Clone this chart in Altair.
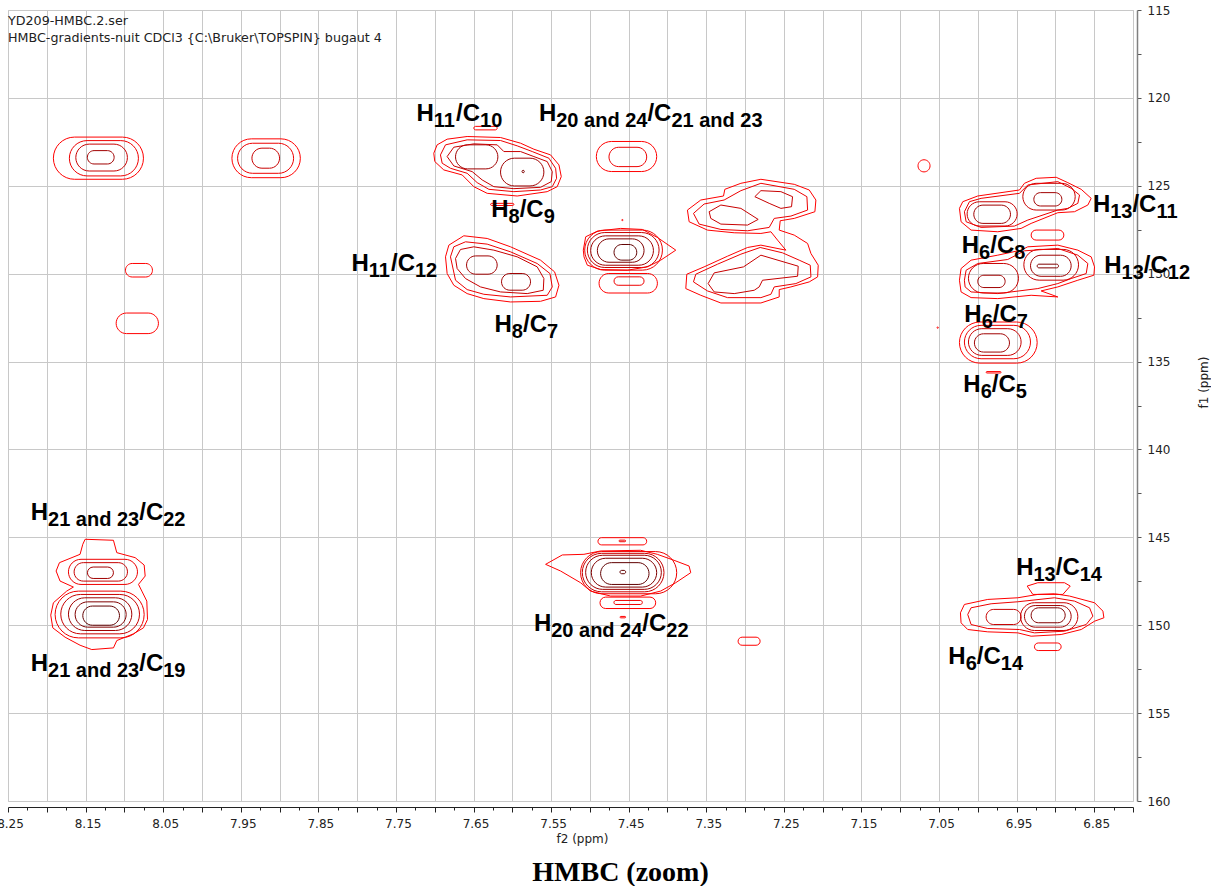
import altair as alt
import pandas as pd

# ---------------- axes / frame ----------------
X_LEFT, X_RIGHT = 8.25, 6.80
Y_TOP, Y_BOTTOM = 115.0, 160.0
PLOT_W, PLOT_H = 1125, 791

X_TICKS = [round(v * 0.025, 3) for v in range(272, 331)]
Y_TICKS = [115 + 2.5 * i for i in range(19)]

HEADER_LINES = ["YD209-HMBC.2.ser",
                "HMBC-gradients-nuit CDCl3 {C:\\Bruker\\TOPSPIN} bugaut 4"]
CHART_TITLE = "HMBC (zoom)"

LEVEL_COLORS = ["#ff0000", "#ee0000", "#c80000", "#a00000", "#800000", "#600000"]

# ---------------- simple contours: (f2 low, f2 high, f1 low, f1 high, level) ----------------
PEAK_A = [(8.1915, 8.0754, 122.23, 124.63, 1), (8.1709, 8.0819, 122.43, 124.44, 2),
          (8.1626, 8.0961, 122.63, 124.16, 3), (8.1477, 8.1132, 123.00, 123.76, 4)]
PEAK_B = [(7.9614, 7.8732, 122.33, 124.54, 1), (7.9541, 7.8819, 122.58, 124.29, 2),
          (7.9356, 7.9000, 122.86, 124.00, 3)]
SMALL_LEFT = [(8.0986, 8.0638, 129.42, 130.19, 1), (8.1106, 8.0561, 132.24, 133.41, 1)]
PEAK_H11C10 = [(7.6732, 7.6186, 122.67, 124.04, 4), (7.6152, 7.5593, 123.43, 125.01, 4),
               (7.5875, 7.5845, 124.12, 124.26, 5), (7.6496, 7.6195, 121.62, 121.82, 1),
               (7.6280, 7.5980, 126.00, 126.12, 1)]
PEAK_H20C21 = [(7.4917, 7.4139, 122.48, 124.19, 1), (7.4754, 7.4268, 122.81, 123.91, 2)]
PEAK_H11C12 = [(7.6590, 7.6195, 128.99, 130.03, 4), (7.6139, 7.5765, 129.99, 130.94, 4)]
PEAK_745_129 = [(7.5067, 7.4065, 127.52, 129.80, 2), (7.5033, 7.4108, 127.66, 129.65, 3),
                (7.4990, 7.4181, 127.85, 129.52, 4), (7.4904, 7.4302, 128.02, 129.35, 5),
                (7.4689, 7.4396, 128.34, 129.23, 6), (7.4882, 7.4130, 129.99, 131.10, 1),
                (7.4689, 7.4302, 130.18, 130.66, 2), (7.4590, 7.4572, 126.92, 126.98, 1)]
DOT_707 = [(7.0771, 7.0616, 123.52, 124.21, 1)]
PEAK_H6C8 = [(7.0138, 6.9493, 125.91, 127.29, 3), (7.0052, 6.9579, 126.10, 127.14, 4),
             (6.9420, 6.8745, 124.86, 126.38, 3), (6.9278, 6.8917, 125.39, 126.15, 4),
             (6.9313, 6.8891, 127.52, 128.09, 1)]
PEAK_H6C7 = [(7.0121, 6.9476, 129.42, 131.10, 3), (7.0001, 6.9648, 130.09, 130.79, 4),
             (6.9407, 6.8702, 128.62, 130.37, 3), (6.9321, 6.8797, 128.95, 130.15, 4),
             (6.9235, 6.8960, 129.46, 129.67, 5)]
PEAK_H6C5 = [(7.0237, 6.9235, 132.75, 135.09, 1), (7.0173, 6.9321, 132.94, 134.84, 2),
             (7.0121, 6.9442, 133.13, 134.65, 3), (7.0044, 6.9592, 133.42, 134.46, 4),
             (6.9893, 6.9700, 135.57, 135.65, 1), (7.0525, 7.0509, 133.03, 133.11, 1)]
PEAK_H21 = [(8.1721, 8.0831, 146.25, 147.68, 2), (8.1648, 8.0960, 146.44, 147.49, 3),
            (8.1476, 8.1141, 146.69, 147.34, 4), (8.1893, 8.0745, 148.06, 150.72, 2),
            (8.1820, 8.0805, 148.25, 150.49, 3), (8.1721, 8.0904, 148.44, 150.30, 4),
            (8.1635, 8.0977, 148.67, 150.11, 5), (8.1536, 8.1063, 148.91, 150.00, 6)]
PEAK_H20C22 = [(7.5120, 7.3881, 145.81, 148.21, 2), (7.5098, 7.4045, 145.91, 148.10, 3),
               (7.5055, 7.4079, 146.02, 147.96, 4), (7.4982, 7.4139, 146.19, 147.83, 5),
               (7.4862, 7.4238, 146.44, 147.68, 6), (7.4612, 7.4539, 146.88, 147.07, 6),
               (7.4896, 7.4268, 145.02, 145.43, 1), (7.4625, 7.4539, 145.16, 145.25, 2),
               (7.4870, 7.4152, 148.40, 149.05, 1), (7.4690, 7.4324, 148.59, 148.82, 2),
               (7.4612, 7.4539, 149.50, 149.58, 1), (7.3090, 7.2806, 150.68, 151.14, 1)]
PEAK_H6C14 = [(6.9893, 6.9442, 149.10, 149.96, 3), (6.9450, 6.8711, 148.72, 150.30, 3),
              (6.9399, 6.8797, 148.88, 150.11, 4), (6.9313, 6.8874, 149.01, 149.86, 5),
              (6.9270, 6.8926, 151.01, 151.44, 1)]

# ---------------- irregular (merged) contours: (f2, f1) vertices ----------------
POLY_M1 = [(7.7012, 123.148), (7.6969, 122.672), (7.6840, 122.349), (7.6582, 122.197), (7.6152, 122.254),
           (7.5894, 122.577), (7.5722, 122.920), (7.5507, 123.243), (7.5399, 123.813), (7.5369, 124.479),
           (7.5421, 125.050), (7.5550, 125.335), (7.5937, 125.582), (7.6324, 125.430), (7.6496, 125.050),
           (7.6646, 124.384), (7.6883, 124.098), (7.6999, 123.623)]
POLY_M2 = [(7.6926, 123.243), (7.6861, 122.672), (7.6582, 122.387), (7.6152, 122.425), (7.5937, 122.729),
           (7.5743, 123.053), (7.5528, 123.433), (7.5442, 124.004), (7.5429, 124.574), (7.5485, 125.050),
           (7.5636, 125.240), (7.5980, 125.335), (7.6302, 125.202), (7.6453, 124.821), (7.6582, 124.289),
           (7.6797, 124.004), (7.6904, 123.718)]
POLY_M3 = [(7.6840, 123.338), (7.6754, 122.806), (7.6496, 122.615), (7.6195, 122.672), (7.6109, 123.053),
           (7.5894, 123.053), (7.5722, 123.338), (7.5550, 123.623), (7.5485, 124.194), (7.5498, 124.764),
           (7.5636, 125.088), (7.5980, 125.164), (7.6238, 125.050), (7.6388, 124.669), (7.6517, 124.194),
           (7.6754, 123.871)]
POLY_N1 = [(7.6861, 129.042), (7.6818, 128.377), (7.6625, 127.845), (7.6324, 127.997), (7.6023, 128.472),
           (7.5636, 129.233), (7.5455, 129.898), (7.5399, 130.659), (7.5442, 131.324), (7.5636, 131.572),
           (7.6023, 131.610), (7.6367, 131.419), (7.6582, 131.134), (7.6754, 130.659), (7.6840, 129.993)]
POLY_N2 = [(7.6797, 129.042), (7.6754, 128.472), (7.6603, 128.187), (7.6324, 128.320), (7.6023, 128.757),
           (7.5679, 129.423), (7.5515, 129.993), (7.5485, 130.754), (7.5550, 131.229), (7.6023, 131.324),
           (7.6367, 131.172), (7.6582, 130.906), (7.6732, 130.374)]
POLY_N3 = [(7.6732, 129.137), (7.6668, 128.624), (7.6496, 128.472), (7.6238, 128.662), (7.5937, 129.042),
           (7.5679, 129.613), (7.5593, 130.278), (7.5601, 130.944), (7.5808, 131.134), (7.6152, 131.039),
           (7.6410, 130.754), (7.6603, 130.278), (7.6711, 129.708)]
POLY_P7 = [(7.5085, 128.662), (7.5054, 127.902), (7.4904, 127.579), (7.4603, 127.426), (7.4323, 127.484),
           (7.4130, 127.940), (7.3893, 128.662), (7.4087, 129.233), (7.4259, 129.613), (7.4517, 129.803),
           (7.4861, 129.765), (7.5033, 129.518), (7.5076, 129.043)]
POLY_C1 = [(7.2474, 128.662), (7.2581, 128.092), (7.2667, 127.617), (7.2796, 127.712), (7.3140, 127.674),
           (7.3485, 127.522), (7.3721, 127.046), (7.3743, 126.381), (7.3571, 125.810), (7.3278, 125.582),
           (7.3261, 125.202), (7.3054, 124.859), (7.2796, 124.631), (7.2366, 124.917), (7.2173, 125.240),
           (7.2087, 125.810), (7.2100, 126.476), (7.2366, 126.856), (7.2547, 126.989), (7.2560, 127.522),
           (7.2366, 127.807), (7.2194, 128.282), (7.2151, 128.853), (7.2057, 129.518), (7.2065, 130.184),
           (7.2173, 130.469), (7.2409, 130.754), (7.2560, 130.906), (7.2560, 131.325), (7.2796, 131.667),
           (7.3312, 131.667), (7.3571, 131.229), (7.3764, 130.849), (7.3751, 130.031), (7.3528, 129.613),
           (7.3226, 129.005), (7.2968, 128.510), (7.2796, 128.377)]
POLY_T2 = [(7.3665, 126.571), (7.3528, 126.038), (7.3270, 125.810), (7.3054, 125.278), (7.2796, 124.859),
           (7.2366, 125.202), (7.2203, 125.620), (7.2194, 126.381), (7.2409, 126.723), (7.2624, 126.856),
           (7.2689, 127.370), (7.2968, 127.560), (7.3312, 127.484), (7.3592, 127.179)]
POLY_T3 = [(7.3463, 126.476), (7.3312, 126.095), (7.3054, 126.286), (7.2831, 126.913), (7.2968, 127.236),
           (7.3312, 127.179), (7.3442, 126.856)]
POLY_T4 = [(7.2874, 125.620), (7.2796, 125.278), (7.2538, 125.335), (7.2388, 125.620), (7.2401, 126.190),
           (7.2538, 126.286), (7.2689, 126.000)]
POLY_B2 = [(7.3665, 130.469), (7.3635, 130.031), (7.3355, 129.461), (7.3054, 128.891), (7.2805, 128.510),
           (7.2517, 128.815), (7.2302, 129.233), (7.2160, 129.518), (7.2151, 130.184), (7.2345, 130.564),
           (7.2624, 130.754), (7.2667, 131.172), (7.2796, 131.363), (7.3226, 131.363), (7.3485, 130.982)]
POLY_B3 = [(7.3476, 130.564), (7.3398, 129.955), (7.3020, 129.613), (7.2796, 128.948), (7.2315, 129.575),
           (7.2323, 130.146), (7.2775, 130.374), (7.2818, 130.754), (7.2882, 130.944), (7.3140, 131.134),
           (7.3398, 131.039)]
POLY_K1 = [(7.0237, 126.285), (7.0194, 125.905), (7.0001, 125.581), (6.9463, 125.239), (6.9399, 124.859),
           (6.9248, 124.574), (6.8990, 124.517), (6.8840, 124.821), (6.8668, 125.201), (6.8539, 125.715),
           (6.8582, 126.095), (6.8754, 126.475), (6.8969, 126.532), (6.9313, 127.141), (6.9442, 127.426),
           (6.9743, 127.616), (7.0087, 127.521), (7.0216, 127.046)]
POLY_K2 = [(7.0173, 126.475), (7.0108, 125.905), (6.9958, 125.715), (6.9463, 125.429), (6.9356, 124.954),
           (6.8969, 124.764), (6.8797, 125.144), (6.8689, 125.524), (6.8711, 126.000), (6.8840, 126.285),
           (6.8969, 126.380), (6.9356, 126.951), (6.9528, 127.293), (6.9958, 127.369), (7.0151, 127.046)]
POLY_J1 = [(7.0237, 130.373), (7.0216, 129.708), (7.0087, 129.232), (6.9743, 128.947), (6.9442, 128.662),
           (6.9356, 128.472), (6.8969, 128.377), (6.8711, 128.662), (6.8539, 129.042), (6.8496, 129.613),
           (6.8504, 130.088), (6.8711, 130.373), (6.8969, 130.754), (6.9184, 130.982), (6.8969, 131.324),
           (6.9313, 131.229), (6.9743, 131.419), (7.0087, 131.362), (7.0216, 131.039)]
POLY_J2 = [(7.0173, 130.373), (7.0151, 129.803), (7.0001, 129.422), (6.9614, 129.194), (6.9399, 128.700),
           (6.8969, 128.567), (6.8711, 128.947), (6.8582, 129.422), (6.8603, 129.993), (6.8797, 130.278),
           (6.8969, 130.563), (6.9227, 130.848), (6.9743, 131.134), (7.0087, 131.039), (7.0164, 130.754)]
POLY_H1 = [(8.1536, 145.395), (8.1506, 145.110), (8.1141, 145.167), (8.1098, 145.871), (8.0861, 146.156),
           (8.0745, 146.574), (8.0732, 147.202), (8.0818, 147.677), (8.0775, 148.057), (8.0711, 148.628),
           (8.0702, 149.674), (8.0754, 150.149), (8.0883, 150.491), (8.1098, 150.872), (8.1141, 151.290),
           (8.1420, 151.385), (8.1571, 151.138), (8.1764, 150.682), (8.1923, 150.149), (8.1949, 149.427),
           (8.1915, 148.723), (8.1743, 148.057), (8.1657, 147.829), (8.1829, 147.487), (8.1880, 146.917),
           (8.1837, 146.441), (8.1571, 145.966)]
POLY_Q1 = [(7.5571, 146.536), (7.5356, 146.003), (7.5077, 145.966), (7.4862, 145.775), (7.4346, 145.737),
           (7.4131, 145.966), (7.3915, 146.308), (7.3722, 146.631), (7.3700, 147.011), (7.3894, 147.582),
           (7.4088, 148.057), (7.4346, 148.342), (7.4733, 148.342), (7.4991, 148.057), (7.5120, 147.582),
           (7.5378, 146.916)]
POLY_R0 = [(6.9364, 147.772), (6.9227, 147.582), (6.8883, 147.582), (6.8809, 147.772), (6.8904, 148.247),
           (6.9291, 148.247)]
POLY_R1 = [(7.0224, 149.293), (7.0173, 148.818), (6.9872, 148.533), (6.9485, 148.438), (6.9227, 148.247),
           (6.9012, 148.210), (6.8818, 148.342), (6.8495, 148.723), (6.8388, 149.198), (6.8375, 149.578),
           (6.8495, 149.769), (6.8667, 150.244), (6.8926, 150.529), (6.9313, 150.624), (6.9485, 150.434),
           (6.9872, 150.377), (7.0130, 150.244), (7.0216, 149.864)]
POLY_R2 = [(7.0130, 149.388), (7.0087, 149.008), (6.9829, 148.780), (6.9485, 148.666), (6.9012, 148.438),
           (6.8754, 148.628), (6.8560, 149.008), (6.8517, 149.483), (6.8603, 149.959), (6.8883, 150.339),
           (6.9270, 150.434), (6.9463, 150.244), (6.9872, 150.187), (7.0087, 149.959)]

POLYGONS = [(POLY_M1, 1), (POLY_M2, 2), (POLY_M3, 3), (POLY_N1, 1), (POLY_N2, 2), (POLY_N3, 3),
            (POLY_P7, 1), (POLY_C1, 1), (POLY_T2, 2), (POLY_T3, 3), (POLY_T4, 3), (POLY_B2, 2),
            (POLY_B3, 3), (POLY_K1, 1), (POLY_K2, 2), (POLY_J1, 1), (POLY_J2, 2), (POLY_H1, 1),
            (POLY_Q1, 1), (POLY_R0, 1), (POLY_R1, 1), (POLY_R2, 2)]
PILL_GROUPS = [PEAK_A, PEAK_B, SMALL_LEFT, PEAK_H11C10, PEAK_H20C21, PEAK_H11C12, PEAK_745_129,
               DOT_707, PEAK_H6C8, PEAK_H6C7, PEAK_H6C5, PEAK_H21, PEAK_H20C22, PEAK_H6C14]

# ---------------- assignment labels: H<sub>/C<sub> ----------------
LABEL_H_SUB = ["11", "20 and 24", "8", "11", "8", "13", "6", "13", "6", "6",
               "21 and 23", "21 and 23", "20 and 24", "13", "6"]
LABEL_C_SUB = ["10", "21 and 23", "9", "12", "7", "11", "8", "12", "7", "5",
               "22", "19", "22", "14", "14"]
LABEL_X = [7.7235, 7.5657, 7.6272, 7.8074, 7.6229, 6.8517, 7.0207, 6.8370, 7.0174, 7.0187,
           8.2207, 8.2207, 7.5722, 6.9506, 7.0380]
LABEL_Y = [121.34, 121.34, 126.76, 129.86, 133.32, 126.48, 128.82, 129.96, 132.75, 136.75,
           144.02, 152.58, 150.34, 147.15, 152.21]

MAIN_SIZE, SUB_SIZE = 24, 20
ARIAL_BOLD = {"H": 0.722, "C": 0.722, "/": 0.278, " ": 0.278, "a": 0.556, "n": 0.611, "d": 0.611}


def text_w(s, size):
    return sum(ARIAL_BOLD.get(ch, 0.556) for ch in s) * size


ppm_per_px = (X_LEFT - X_RIGHT) / PLOT_W
main_rows, sub_rows = [], []
for hs, cs, x0, y0 in zip(LABEL_H_SUB, LABEL_C_SUB, LABEL_X, LABEL_Y):
    off = 0.0
    main_rows.append({"x": x0 - off * ppm_per_px, "y": y0, "t": "H"})
    off += text_w("H", MAIN_SIZE)
    sub_rows.append({"x": x0 - off * ppm_per_px, "y": y0, "t": hs})
    off += text_w(hs, SUB_SIZE)
    main_rows.append({"x": x0 - off * ppm_per_px, "y": y0, "t": "/C"})
    off += text_w("/C", MAIN_SIZE)
    sub_rows.append({"x": x0 - off * ppm_per_px, "y": y0, "t": cs})

pill_df = pd.DataFrame([{"x": a, "x2": b, "y": c, "y2": d, "level": l}
                        for g in PILL_GROUPS for (a, b, c, d, l) in g])
poly_df = pd.DataFrame([{"x": px, "y": py, "level": lvl, "id": k, "i": i}
                        for k, (pts, lvl) in enumerate(POLYGONS) for i, (px, py) in enumerate(pts)])
main_df = pd.DataFrame(main_rows)
sub_df = pd.DataFrame(sub_rows)
header_df = pd.DataFrame({"t": ["\n".join(HEADER_LINES)]})

MAJOR_X = "round(datum.value * 40) % 2 == 0"
x_axis = alt.Axis(
    values=X_TICKS, orient="bottom", offset=6,
    labelExpr="round(datum.value * 40) % 4 == 2 ? format(datum.value, '.2f') : ''",
    labelFont="DejaVu Sans", labelFontSize=12, labelColor="#222", labelPadding=6, labelOffset=2,
    labelFlush=False, labelOverlap=False,
    tickColor="#222", tickWidth=1,
    tickSize={"condition": {"test": MAJOR_X, "value": 5}, "value": 3},
    domainColor="#222", domainWidth=1,
    grid=True, gridColor="#c8c8c8", gridWidth=1,
    gridOpacity={"condition": {"test": MAJOR_X, "value": 1}, "value": 0},
    title="f2 (ppm)", titleFont="DejaVu Sans", titleFontSize=12, titleFontWeight="normal",
    titleColor="#222", titlePadding=4, titleX=574,
)
y_axis = alt.Axis(
    values=Y_TICKS, orient="right", offset=4,
    labelExpr="datum.value % 5 == 0 ? format(datum.value, 'd') : ''",
    labelFont="DejaVu Sans", labelFontSize=12, labelColor="#222", labelPadding=6,
    labelFlush=False, labelOverlap=False,
    tickColor="#555", tickSize=4, domainColor="#808080", domainWidth=1.5,
    grid=True, gridColor="#c8c8c8", gridWidth=1,
    gridOpacity={"condition": {"test": "datum.value % 5 == 0", "value": 1}, "value": 0},
    title="f1 (ppm)", titleFont="DejaVu Sans", titleFontSize=12, titleFontWeight="normal",
    titleColor="#222", titleAngle=270, titleX=66, titleY=372, titleBaseline="middle", titleAlign="center",
)
xs = alt.Scale(domain=[X_RIGHT, X_LEFT], reverse=True, nice=False, zero=False)
ys = alt.Scale(domain=[Y_TOP, Y_BOTTOM], reverse=True, nice=False, zero=False)
color = alt.Color("level:O", scale=alt.Scale(domain=[1, 2, 3, 4, 5, 6], range=LEVEL_COLORS), legend=None)

X = alt.X("x:Q", scale=xs, axis=x_axis)
Y = alt.Y("y:Q", scale=ys, axis=y_axis)

pills = alt.Chart(pill_df).mark_rect(filled=False, cornerRadius=300, strokeWidth=1).encode(
    x=X, x2="x2:Q", y=Y, y2="y2:Q", color=color)
polys = alt.Chart(poly_df).mark_line(interpolate="linear-closed", strokeWidth=1).encode(
    x=X, y=Y, color=color, detail="id:N", order="i:Q")
main_text = alt.Chart(main_df).mark_text(
    align="left", baseline="alphabetic", font="Liberation Sans", fontWeight="bold",
    fontSize=MAIN_SIZE, color="black").encode(x=X, y=Y, text="t:N")
sub_text = alt.Chart(sub_df).mark_text(
    align="left", baseline="alphabetic", font="Liberation Sans", fontWeight="bold",
    fontSize=SUB_SIZE, color="black", dy=6).encode(x=X, y=Y, text="t:N")
header = alt.Chart(header_df).mark_text(
    align="left", baseline="alphabetic", font="DejaVu Sans", fontSize=12.7, color="#222",
    lineBreak="\n", lineHeight=17).encode(x=alt.value(0), y=alt.value(14.5), text="t:N")

chart = alt.layer(pills, polys, main_text, sub_text, header).properties(
    width=PLOT_W, height=PLOT_H,
    title=alt.TitleParams(CHART_TITLE, orient="bottom", anchor="middle", frame="group",
                          font="Liberation Serif", fontSize=28, fontWeight="bold", color="black",
                          offset=15, dx=50),
    padding={"left": 8, "top": 10, "right": 78, "bottom": 85},
    autosize=alt.AutoSizeParams(type="none"),
).configure_view(stroke="#c8c8c8", strokeWidth=1)

chart.save("out.html", embed_options={"renderer": "svg", "actions": False})
